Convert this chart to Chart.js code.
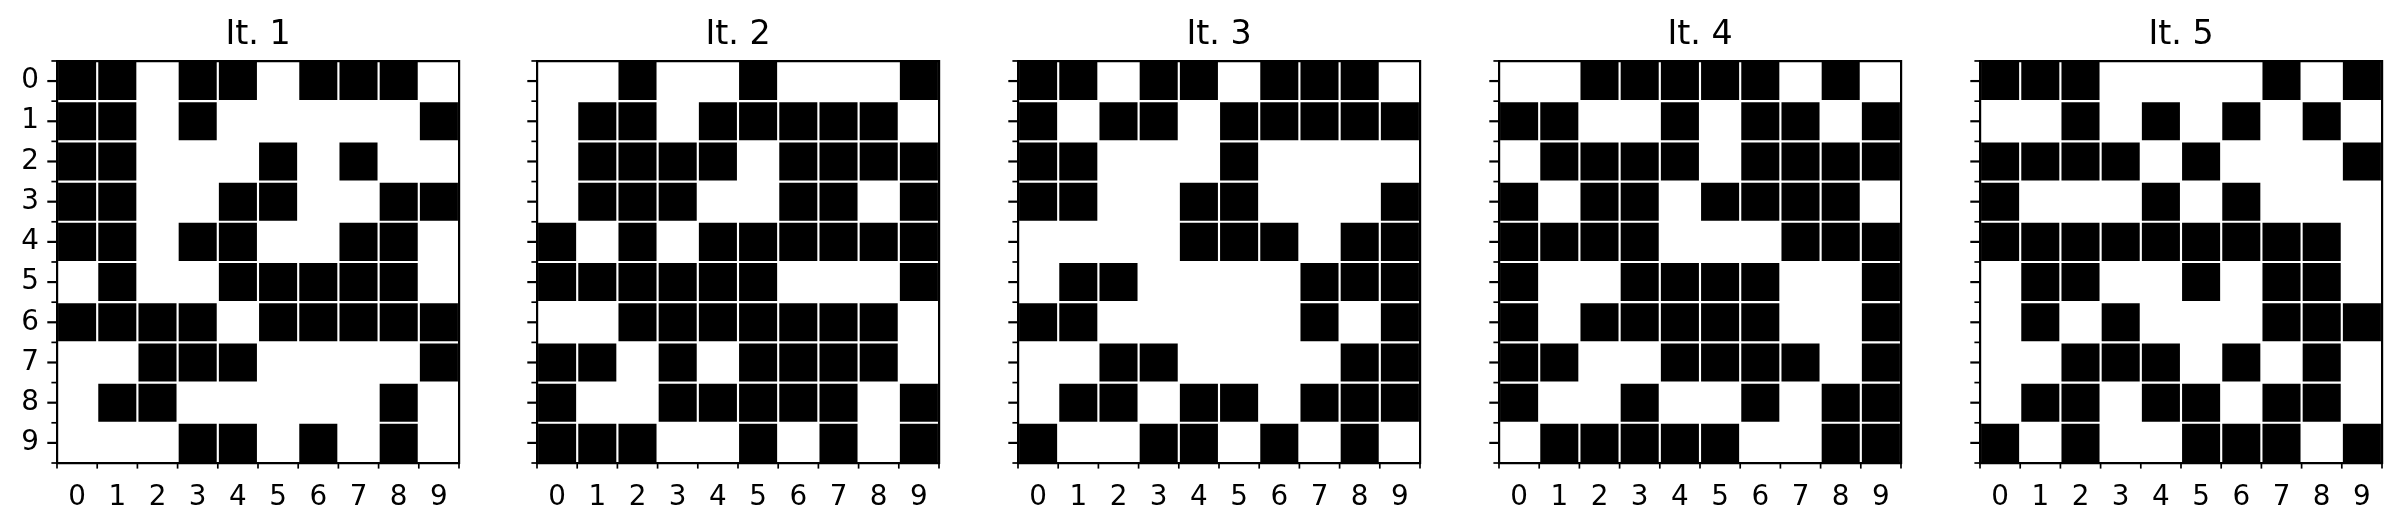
<!DOCTYPE html>
<html>
<head>
<meta charset="utf-8">
<script src="https://cdn.jsdelivr.net/npm/chart.js@4.4.1/dist/chart.umd.min.js"></script>
<style>
  html, body { margin: 0; padding: 0; background: #fff; }
  #wrap { position: relative; width: 2402px; height: 530px; overflow: hidden; }
  #wrap canvas { position: absolute; top: 0; }
</style>
</head>
<body>
<div id="wrap"></div>
<script>
const titles = ['It. 1', 'It. 2', 'It. 3', 'It. 4', 'It. 5'];
const colLabels = ['0', '1', '2', '3', '4', '5', '6', '7', '8', '9'];
const rowLabels = ['0', '1', '2', '3', '4', '5', '6', '7', '8', '9'];

// 1 = black cell, 0 = white cell (rows top to bottom)
const it1 = [
  [1,1,0,1,1,0,1,1,1,0],
  [1,1,0,1,0,0,0,0,0,1],
  [1,1,0,0,0,1,0,1,0,0],
  [1,1,0,0,1,1,0,0,1,1],
  [1,1,0,1,1,0,0,1,1,0],
  [0,1,0,0,1,1,1,1,1,0],
  [1,1,1,1,0,1,1,1,1,1],
  [0,0,1,1,1,0,0,0,0,1],
  [0,1,1,0,0,0,0,0,1,0],
  [0,0,0,1,1,0,1,0,1,0]
];
const it2 = [
  [0,0,1,0,0,1,0,0,0,1],
  [0,1,1,0,1,1,1,1,1,0],
  [0,1,1,1,1,0,1,1,1,1],
  [0,1,1,1,0,0,1,1,0,1],
  [1,0,1,0,1,1,1,1,1,1],
  [1,1,1,1,1,1,0,0,0,1],
  [0,0,1,1,1,1,1,1,1,0],
  [1,1,0,1,0,1,1,1,1,0],
  [1,0,0,1,1,1,1,1,0,1],
  [1,1,1,0,0,1,0,1,0,1]
];
const it3 = [
  [1,1,0,1,1,0,1,1,1,0],
  [1,0,1,1,0,1,1,1,1,1],
  [1,1,0,0,0,1,0,0,0,0],
  [1,1,0,0,1,1,0,0,0,1],
  [0,0,0,0,1,1,1,0,1,1],
  [0,1,1,0,0,0,0,1,1,1],
  [1,1,0,0,0,0,0,1,0,1],
  [0,0,1,1,0,0,0,0,1,1],
  [0,1,1,0,1,1,0,1,1,1],
  [1,0,0,1,1,0,1,0,1,0]
];
const it4 = [
  [0,0,1,1,1,1,1,0,1,0],
  [1,1,0,0,1,0,1,1,0,1],
  [0,1,1,1,1,0,1,1,1,1],
  [1,0,1,1,0,1,1,1,1,0],
  [1,1,1,1,0,0,0,1,1,1],
  [1,0,0,1,1,1,1,0,0,1],
  [1,0,1,1,1,1,1,0,0,1],
  [1,1,0,0,1,1,1,1,0,1],
  [1,0,0,1,0,0,1,0,1,1],
  [0,1,1,1,1,1,0,0,1,1]
];
const it5 = [
  [1,1,1,0,0,0,0,1,0,1],
  [0,0,1,0,1,0,1,0,1,0],
  [1,1,1,1,0,1,0,0,0,1],
  [1,0,0,0,1,0,1,0,0,0],
  [1,1,1,1,1,1,1,1,1,0],
  [0,1,1,0,0,1,0,1,1,0],
  [0,1,0,1,0,0,0,1,1,1],
  [0,0,1,1,1,0,1,0,1,0],
  [0,1,1,0,1,1,0,1,1,0],
  [1,0,1,0,0,1,1,1,0,1]
];
const grids = [it1, it2, it3, it4, it5];

const FONT = 'DejaVu Sans';
const Y_AXIS_W = 57;
const PLOT_W = 402;
const PLOT_LEFTS = [57, 537, 1018, 1499, 1980];

// matplotlib-like tick marks: long ones at row centres, short ones on cell edges
const tickMarks = {
  id: 'tickMarks',
  afterDraw(chart) {
    const { x, y } = chart.scales;
    const ctx = chart.ctx;
    const line = (x1, y1, x2, y2, w) => {
      ctx.lineWidth = w;
      ctx.beginPath();
      ctx.moveTo(x1, y1);
      ctx.lineTo(x2, y2);
      ctx.stroke();
    };
    ctx.save();
    ctx.strokeStyle = '#000';
    rowLabels.forEach((_, k) => {
      const py = y.getPixelForValue(k);
      line(y.right - 9.7, py, y.right, py, 2.2);
    });
    for (let k = 0; k <= rowLabels.length; k++) {
      const py = y.getPixelForValue(k - 0.5);
      line(y.right - 5.6, py, y.right, py, 1.7);
    }
    for (let k = 0; k <= colLabels.length; k++) {
      const px = x.getPixelForDecimal(k / colLabels.length);
      line(px, x.top, px, x.top + 5.6, 1.7);
    }
    ctx.restore();
  }
};

function makeDatasets(grid) {
  // one floating-bar dataset per row
  return grid.map((row, r) => ({
    label: 'row ' + r,
    data: row.map(v => v ? [r - 0.5, r + 0.5] : null),
    backgroundColor: '#000',
    borderColor: '#fff',
    borderWidth: 1.4,
    borderSkipped: false,
    barPercentage: 1,
    categoryPercentage: 1,
    grouped: false
  }));
}

const wrap = document.getElementById('wrap');

grids.forEach((grid, i) => {
  const canvas = document.createElement('canvas');
  canvas.width = Y_AXIS_W + PLOT_W + 8;
  canvas.height = 530;
  canvas.style.left = (PLOT_LEFTS[i] - Y_AXIS_W) + 'px';
  wrap.appendChild(canvas);

  new Chart(canvas, {
    type: 'bar',
    data: { labels: colLabels, datasets: makeDatasets(grid) },
    options: {
      responsive: false,
      animation: false,
      devicePixelRatio: 1,
      layout: { padding: { left: 0, right: 8, top: 0, bottom: 0 } },
      plugins: {
        legend: { display: false },
        tooltip: { enabled: false },
        title: {
          display: true,
          text: titles[i],
          fullSize: false,
          color: '#000',
          font: { family: FONT, size: 33.3, weight: 'normal' },
          padding: { top: 15, bottom: 6 }
        }
      },
      scales: {
        x: {
          type: 'category',
          offset: true,
          afterFit: s => { s.height = 530 - 463; },
          grid: { display: false, drawTicks: false },
          border: { display: true, color: '#000', width: 2.2, z: 1 },
          ticks: { color: '#000', padding: 18, maxRotation: 0, autoSkip: false, font: { family: FONT, size: 27.8 } }
        },
        y: {
          type: 'linear',
          reverse: true,
          min: -0.5,
          max: 9.5,
          afterFit: s => { s.width = Y_AXIS_W; },
          afterBuildTicks: s => { s.ticks = rowLabels.map((_, k) => ({ value: k })); },
          grid: { display: false, drawTicks: false },
          border: { display: true, color: '#000', width: 2.2, z: 1 },
          ticks: {
            color: '#000',
            padding: 18,
            font: { family: FONT, size: 27.8 },
            callback: v => (i === 0 ? rowLabels[v] : '')
          }
        },
        x2: {
          type: 'category',
          position: 'top',
          labels: colLabels,
          offset: true,
          afterFit: s => { s.height = 0; },
          grid: { display: false, drawTicks: false },
          border: { display: true, color: '#000', width: 2.2, z: 1 },
          ticks: { display: false }
        },
        y2: {
          type: 'linear',
          position: 'right',
          min: -0.5,
          max: 9.5,
          afterFit: s => { s.width = 0; },
          grid: { display: false, drawTicks: false },
          border: { display: true, color: '#000', width: 2.2, z: 1 },
          ticks: { display: false }
        }
      }
    },
    plugins: [tickMarks]
  });
});
</script>
</body>
</html>
